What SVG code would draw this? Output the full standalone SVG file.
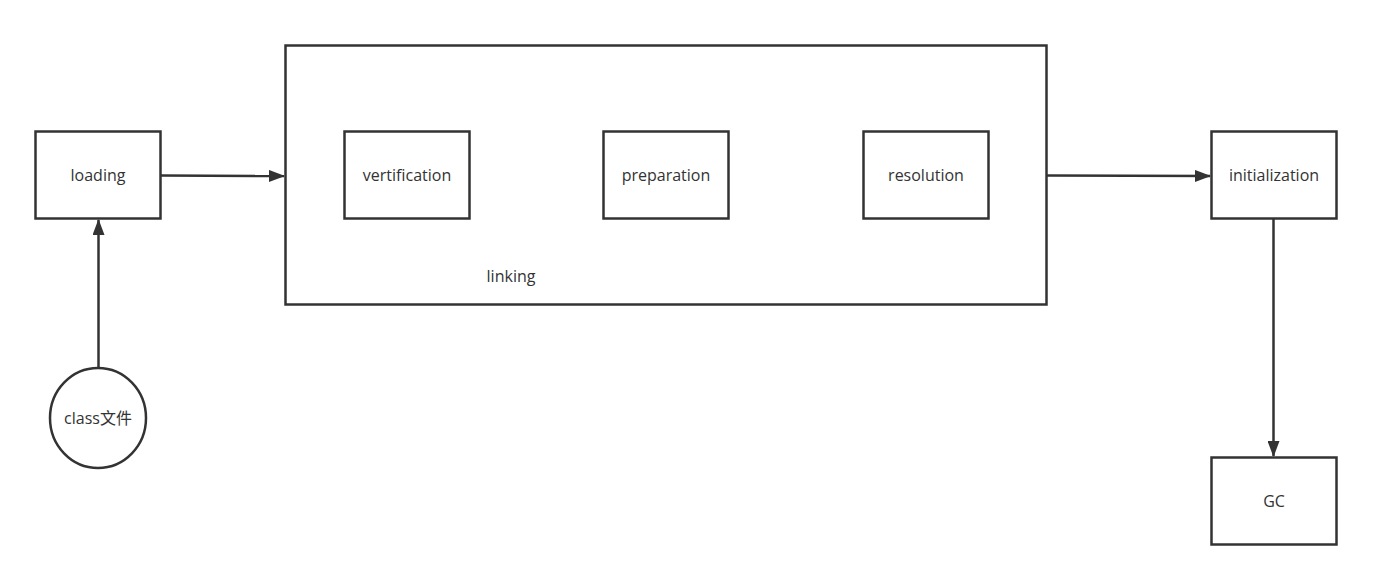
<svg xmlns="http://www.w3.org/2000/svg" width="1373" height="577" viewBox="0 0 1373 577">
<style>
.box{fill:#fff;stroke:#333;stroke-width:2.5}
.lbl{font-family:"Open Sans","Noto Sans","Noto Sans CJK SC",sans-serif;font-size:16px;fill:#333;text-anchor:middle;dominant-baseline:central}
.edge{stroke:#333;stroke-width:2.5;fill:none;marker-end:url(#arr)}
</style>
<defs>
<marker id="arr" viewBox="0 0 16 12" refX="15" refY="6" markerWidth="16" markerHeight="12" markerUnits="userSpaceOnUse" orient="auto">
<path d="M0,0 L16,6 L0,12 Z" fill="#333"/>
</marker>
</defs>
<rect width="1373" height="577" fill="#fff"/>
<g id="linking"><rect class="box" x="285.5" y="45.5" width="761" height="259"/><text class="lbl" x="511" y="276">linking</text></g>
<g id="loading"><rect class="box" x="35.5" y="131.5" width="125" height="87"/><text class="lbl" x="98" y="175">loading</text></g>
<g id="vertification"><rect class="box" x="344.5" y="131.5" width="125" height="87"/><text class="lbl" x="407" y="175">vertification</text></g>
<g id="preparation"><rect class="box" x="603.5" y="131.5" width="125" height="87"/><text class="lbl" x="666" y="175">preparation</text></g>
<g id="resolution"><rect class="box" x="863.5" y="131.5" width="125" height="87"/><text class="lbl" x="926" y="175">resolution</text></g>
<g id="initialization"><rect class="box" x="1211.5" y="131.5" width="125" height="87"/><text class="lbl" x="1274" y="175">initialization</text></g>
<g id="gc"><rect class="box" x="1211.5" y="457.5" width="125" height="87"/><text class="lbl" x="1274" y="501">GC</text></g>
<g id="classfile"><ellipse class="box" cx="98" cy="418" rx="48" ry="50"/><text class="lbl" x="98" y="418">class文件</text></g>
<g id="connectors">
<path class="edge" d="M161,175.5 L284,176"/>
<path class="edge" d="M1047,175.5 L1210,176"/>
<path class="edge" d="M1273.5,219 L1273.5,456"/>
<path class="edge" d="M98.5,367 L98.5,220"/>
</g>
</svg>
